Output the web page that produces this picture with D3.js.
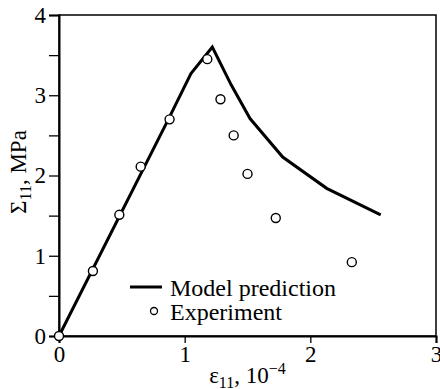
<!DOCTYPE html>
<html>
<head>
<meta charset="utf-8">
<script src="https://cdn.jsdelivr.net/npm/d3@7"></script>
<style>
  body { margin: 0; background: #fff; }
  svg { display: block; font-family: "Liberation Serif", "DejaVu Serif", serif; }
</style>
</head>
<body>
<div id="chart"></div>
<script>
// model curve (strain 10^-4, stress MPa)
var modelX = [0, 0.87, 1.05, 1.22, 1.37, 1.52, 1.78, 2.13, 2.56];
var modelY = [0, 2.70, 3.27, 3.60, 3.13, 2.71, 2.23, 1.84, 1.51];
// experiment points
var expX = [0, 0.27, 0.48, 0.65, 0.88, 1.18, 1.285, 1.39, 1.50, 1.725, 2.33];
var expY = [0, 0.81, 1.51, 2.11, 2.70, 3.45, 2.95, 2.50, 2.02, 1.47, 0.92];
var xTicks = [0, 1, 2, 3];
var yTicks = [0, 1, 2, 3, 4];
var yMinor = [0.5, 1.5, 2.5, 3.5];
var legendLabels = ["Model prediction", "Experiment"];

var W = 440, H = 389;
var m = { l: 59, r: 436, t: 15, b: 336 };

var svg = d3.select('#chart').append('svg')
    .attr('width', W).attr('height', H);

var x = d3.scaleLinear().domain([0, 3]).range([m.l, m.r]);
var y = d3.scaleLinear().domain([0, 4]).range([m.b, m.t]);

// frame
svg.append('rect')
    .attr('x', m.l).attr('y', m.t)
    .attr('width', m.r - m.l).attr('height', m.b - m.t)
    .attr('fill', 'none').attr('stroke', '#000').attr('stroke-width', 1.5);

// y axis
svg.append('g')
    .attr('transform', 'translate(' + m.l + ',0)')
    .call(d3.axisLeft(y).tickValues(yTicks).tickSize(10).tickPadding(3).tickFormat(d3.format('d')));
svg.append('g')
    .attr('transform', 'translate(' + m.l + ',0)')
    .call(d3.axisLeft(y).tickValues(yMinor).tickSize(10).tickFormat(''))
    .select('.domain').remove();

// x axis
svg.append('g')
    .attr('transform', 'translate(0,' + m.b + ')')
    .call(d3.axisBottom(x).tickValues(xTicks).tickSize(7).tickPadding(3).tickFormat(d3.format('d')));

svg.selectAll('.domain').attr('stroke-width', 2);
svg.selectAll('.tick line').attr('stroke-width', 1.3);
svg.selectAll('.tick text')
    .style('font-family', '"Liberation Serif", serif')
    .style('font-size', '23px')
    .attr('fill', '#000');

// model line
var pts = modelX.map(function (d, i) { return [d, modelY[i]]; });
svg.append('path')
    .datum(pts)
    .attr('d', d3.line().x(function (d) { return x(d[0]); }).y(function (d) { return y(d[1]); }))
    .attr('fill', 'none').attr('stroke', '#000').attr('stroke-width', 3)
    .attr('stroke-linejoin', 'miter');

// experiment circles
svg.selectAll('.exp')
    .data(expX.map(function (d, i) { return [d, expY[i]]; }))
    .enter().append('circle')
    .attr('class', 'exp')
    .attr('cx', function (d) { return x(d[0]); })
    .attr('cy', function (d) { return y(d[1]); })
    .attr('r', 4.5)
    .attr('fill', '#fff').attr('stroke', '#000').attr('stroke-width', 1.4);

// legend
var lg = svg.append('g').style('font-size', '24px');
lg.append('line')
    .attr('x1', 130).attr('x2', 162).attr('y1', 287).attr('y2', 287)
    .attr('stroke', '#000').attr('stroke-width', 3);
lg.append('text').attr('x', 170).attr('y', 296).text(legendLabels[0]);
lg.append('circle')
    .attr('cx', 154).attr('cy', 311).attr('r', 3.5)
    .attr('fill', '#fff').attr('stroke', '#000').attr('stroke-width', 1.3);
lg.append('text').attr('x', 170).attr('y', 320).text(legendLabels[1]);

// x title
var xt = svg.append('text')
    .attr('x', (m.l + m.r) / 2).attr('y', 383)
    .attr('text-anchor', 'middle').style('font-size', '23px');
xt.append('tspan').text('ε');
xt.append('tspan').attr('dy', 5).style('font-size', '16px').text('11');
xt.append('tspan').attr('dy', -5).text(', 10');
xt.append('tspan').attr('dy', -9).style('font-size', '16px').text('−4');

// y title
var yt = svg.append('text')
    .attr('transform', 'translate(26,' + 172 + ') rotate(-90)')
    .attr('text-anchor', 'middle').style('font-size', '23px');
yt.append('tspan').text('Σ');
yt.append('tspan').attr('dy', 5).style('font-size', '16px').text('11');
yt.append('tspan').attr('dy', -5).text(', MPa');
</script>
</body>
</html>
